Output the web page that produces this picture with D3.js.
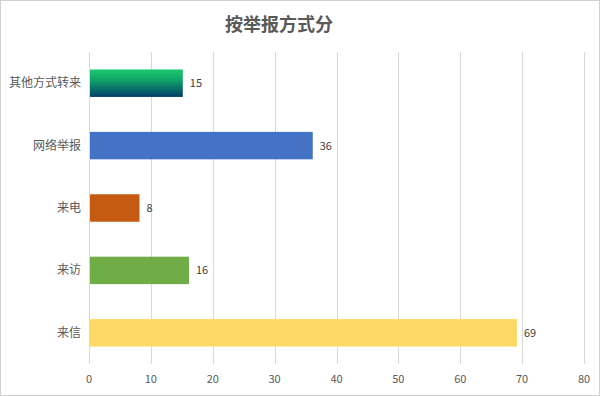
<!DOCTYPE html>
<html>
<head>
<meta charset="utf-8">
<script src="https://cdn.jsdelivr.net/npm/d3@7"></script>
<style>
  html, body { margin: 0; padding: 0; background: #fff; }
  svg { display: block; font-family: "Microsoft YaHei", "Noto Sans CJK SC", sans-serif; }
</style>
</head>
<body>
<div id="chart"></div>
<script>
// ── Data ─────────────────────────────────────────────────────────
const categories = ['其他方式转来', '网络举报', '来电', '来访', '来信'];
const values = [15, 36, 8, 16, 69];
const barColors = ['url(#grad-top)', '#4472c4', '#c55a11', '#70ad47', '#ffd966'];
const xTicks = [0, 10, 20, 30, 40, 50, 60, 70, 80];
const title = '按举报方式分';

const W = 600, H = 396;
const plot = { left: 89, right: 584, top: 52, bottom: 364 };

const svg = d3.select('#chart').append('svg')
  .attr('width', W)
  .attr('height', H);

// gradient for first bar
const grad = svg.append('defs').append('linearGradient')
  .attr('id', 'grad-top')
  .attr('x1', 0).attr('y1', 0).attr('x2', 0).attr('y2', 1);
grad.append('stop').attr('offset', '0%').attr('stop-color', '#1cc96c');
grad.append('stop').attr('offset', '35%').attr('stop-color', '#11a868');
grad.append('stop').attr('offset', '100%').attr('stop-color', '#004068');

// chart border
svg.append('rect')
  .attr('x', 0.5).attr('y', 0.5)
  .attr('width', W - 1).attr('height', H - 1)
  .attr('fill', '#fff')
  .attr('stroke', '#d0d0d0');

// title
svg.append('text')
  .attr('x', 279).attr('y', 31)
  .attr('text-anchor', 'middle')
  .attr('font-size', 18)
  .attr('font-weight', 700)
  .attr('fill', '#595959')
  .text(title);

const x = d3.scaleLinear().domain([0, 80]).range([plot.left, plot.right]);
const y = d3.scaleBand().domain(categories).range([plot.top, plot.bottom]).paddingInner(0.56).paddingOuter(0.28);

// gridlines
svg.append('g')
  .selectAll('line')
  .data(xTicks)
  .enter()
  .append('line')
  .attr('x1', d => Math.round(x(d)) + 0.5)
  .attr('x2', d => Math.round(x(d)) + 0.5)
  .attr('y1', plot.top)
  .attr('y2', plot.bottom)
  .attr('stroke', '#d9d9d9')
  .attr('stroke-width', 1);

// x tick labels
svg.append('g')
  .selectAll('text')
  .data(xTicks)
  .enter()
  .append('text')
  .attr('x', d => x(d))
  .attr('y', 383)
  .attr('text-anchor', 'middle')
  .attr('font-size', 11)
  .attr('fill', '#595959')
  .text(d => d);

// bars
svg.append('g')
  .selectAll('rect')
  .data(categories)
  .enter()
  .append('rect')
  .attr('x', x(0) + 1)
  .attr('y', d => y(d))
  .attr('width', (d, i) => x(values[i]) - x(0))
  .attr('height', y.bandwidth())
  .attr('fill', (d, i) => barColors[i]);

// value labels
svg.append('g')
  .selectAll('text')
  .data(categories)
  .enter()
  .append('text')
  .attr('x', (d, i) => x(values[i]) + 8)
  .attr('y', d => y(d) + y.bandwidth() / 2 + 4)
  .attr('font-size', 11)
  .attr('fill', '#404040')
  .text((d, i) => values[i]);

// category labels
svg.append('g')
  .selectAll('text')
  .data(categories)
  .enter()
  .append('text')
  .attr('x', plot.left - 8)
  .attr('y', d => y(d) + y.bandwidth() / 2 + 4)
  .attr('text-anchor', 'end')
  .attr('font-size', 12)
  .attr('fill', '#595959')
  .text(d => d);
</script>
</body>
</html>
